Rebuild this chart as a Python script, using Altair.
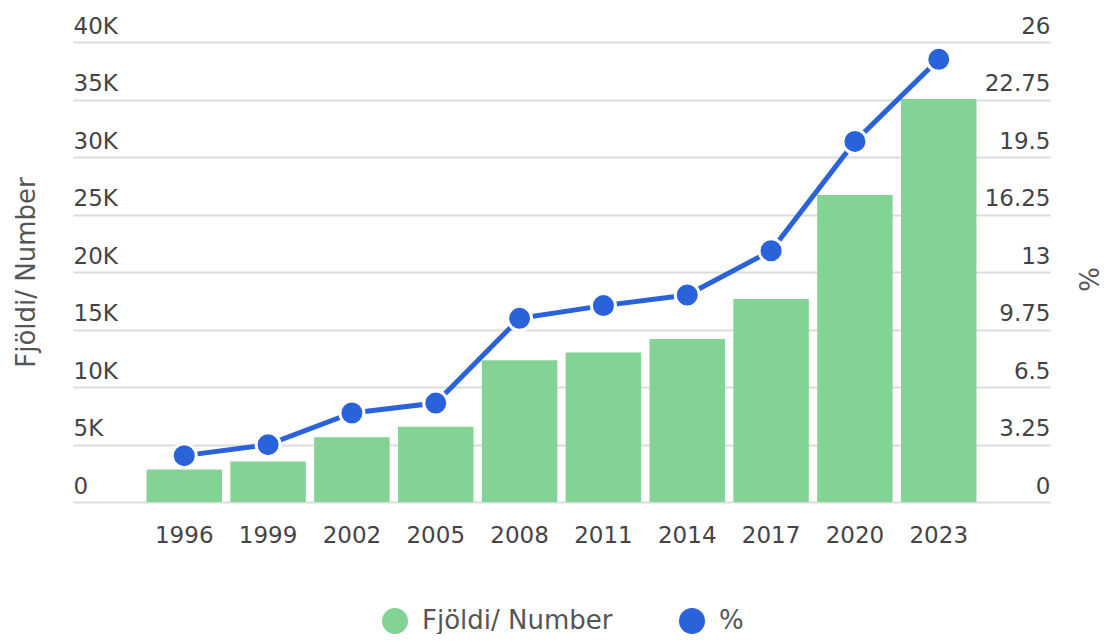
import altair as alt
import pandas as pd

years = ["1996", "1999", "2002", "2005", "2008", "2011", "2014", "2017", "2020", "2023"]
numbers = [2830, 3520, 5620, 6550, 12330, 13010, 14170, 17650, 26690, 35050]
percent = [2.62, 3.24, 5.03, 5.59, 10.38, 11.1, 11.7, 14.2, 20.38, 25.02]
left_ticks = [0, 5000, 10000, 15000, 20000, 25000, 30000, 35000, 40000]
right_ticks = [0, 3.25, 6.5, 9.75, 13, 16.25, 19.5, 22.75, 26]
series_names = ["Fjöldi/ Number", "%"]
colors = ["#82d394", "#2a62d9"]

FONT = "DejaVu Sans"
LABEL_COLOR = "#444444"

df_bar = pd.DataFrame({"year": years, "value": numbers, "series": series_names[0]})
df_pct = pd.DataFrame({"year": years, "value": percent, "series": series_names[1]})

x = alt.X(
    "year:N",
    sort=years,
    scale=alt.Scale(paddingInner=0.1, paddingOuter=0.877),
    axis=alt.Axis(
        title=None, labelAngle=0, ticks=False, tickSize=0, domain=False, grid=False,
        labelPadding=40, labelBaseline="alphabetic", labelFontSize=23,
        labelColor=LABEL_COLOR, labelFont=FONT,
    ),
)

color = alt.Color(
    "series:N",
    scale=alt.Scale(domain=series_names, range=colors),
    legend=alt.Legend(
        title=None, orient="none", direction="horizontal", legendX=309, legendY=566,
        symbolType="circle", symbolSize=676, symbolStrokeWidth=0,
        labelFontSize=26, labelFont=FONT, labelColor="#555555", labelLimit=0,
        columnPadding=66, labelOffset=14,
    ),
)

bars = alt.Chart(df_bar).mark_bar(opacity=1).encode(
    x=x,
    y=alt.Y(
        "value:Q",
        scale=alt.Scale(domain=[0, 40000], nice=False),
        axis=alt.Axis(
            title="Fjöldi/ Number", values=left_ticks,
            labelExpr="datum.value == 0 ? '0' : (datum.value / 1000) + 'K'",
            ticks=False, tickSize=0, domain=False, grid=True,
            gridColor="#dcdcdc", gridWidth=2,
            labelAlign="left", labelPadding=0, labelBaseline="alphabetic", labelOffset=-9,
            labelFontSize=23, labelColor=LABEL_COLOR, labelFont=FONT,
            labelFlush=False, labelOverlap=False,
            titleAngle=270, titleX=-47, titleY=230, titleAlign="center", titleBaseline="middle",
            titleFontSize=26, titleFontWeight="normal", titleColor="#555555", titleFont=FONT,
        ),
    ),
    color=color,
)

y_pct = alt.Y(
    "value:Q",
    scale=alt.Scale(domain=[0, 26], nice=False),
    axis=alt.Axis(
        title="%", orient="right", values=right_ticks,
        labelExpr="format(datum.value, '~g')",
        ticks=False, tickSize=0, domain=False, grid=False,
        labelAlign="right", labelPadding=0, labelBaseline="alphabetic", labelOffset=-9,
        labelFontSize=23, labelColor=LABEL_COLOR, labelFont=FONT,
        labelFlush=False, labelOverlap=False,
        titleAngle=270, titleX=40, titleY=237, titleAlign="center", titleBaseline="middle",
        titleFontSize=26, titleFontWeight="normal", titleColor="#555555", titleFont=FONT,
    ),
)

line = alt.Chart(df_pct).mark_line(color=colors[1], strokeWidth=5).encode(x=x, y=y_pct)
pts = alt.Chart(df_pct).mark_circle(size=576, opacity=1, stroke="white", strokeWidth=3).encode(
    x=x, y=y_pct, color=color
)

chart = (
    alt.layer(bars, alt.layer(line, pts))
    .resolve_scale(y="independent")
    .properties(
        width=977, height=460,
        autosize=alt.AutoSizeParams(type="none"),
        padding={"left": 65, "top": 34, "right": 53, "bottom": 132},
    )
    .configure_view(stroke=None)
)

chart.save("out.html", embed_options={"renderer": "svg", "actions": False})
